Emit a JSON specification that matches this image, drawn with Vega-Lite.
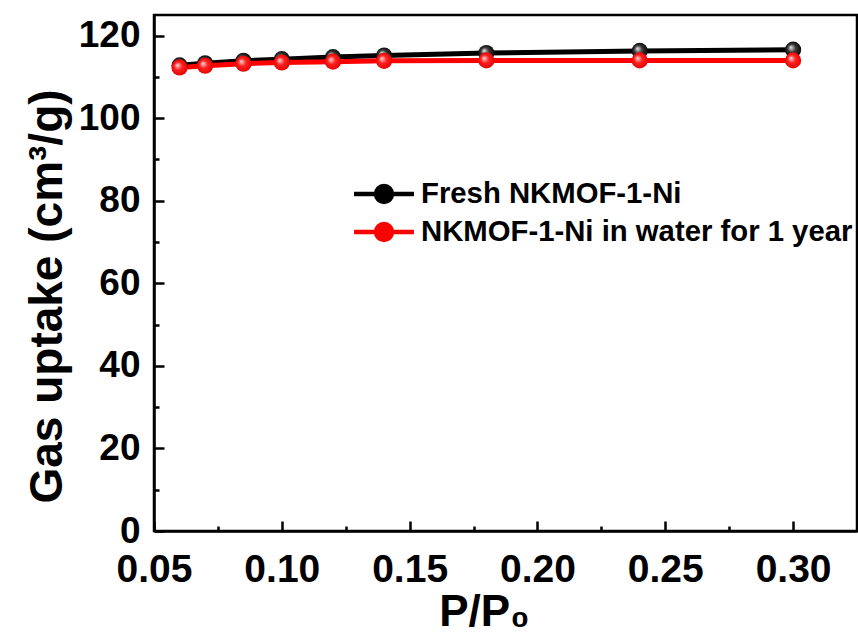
{
  "$schema": "https://vega.github.io/schema/vega-lite/v6.json",
  "autosize": {"type": "none"},
  "width": 703,
  "height": 516,
  "padding": {"left": 154, "top": 15, "right": 1, "bottom": 104},
  "background": "white",
  "config": {
    "font": "Liberation Sans",
    "view": {"stroke": "black", "strokeWidth": 2.5},
    "axis": {"grid": false, "domainColor": "black", "domainWidth": 2.5, "tickColor": "black", "tickWidth": 2.5, "labelFont": "Liberation Sans", "labelFontWeight": "bold", "labelColor": "black", "titleFont": "Liberation Sans", "titleFontWeight": "bold", "titleColor": "black"}
  },
  "data": {"values": [
    {"p": 0.06, "v": 112.8, "s": "Fresh NKMOF-1-Ni"},
    {"p": 0.07, "v": 113.3, "s": "Fresh NKMOF-1-Ni"},
    {"p": 0.085, "v": 113.9, "s": "Fresh NKMOF-1-Ni"},
    {"p": 0.10, "v": 114.3, "s": "Fresh NKMOF-1-Ni"},
    {"p": 0.12, "v": 114.8, "s": "Fresh NKMOF-1-Ni"},
    {"p": 0.14, "v": 115.2, "s": "Fresh NKMOF-1-Ni"},
    {"p": 0.18, "v": 115.8, "s": "Fresh NKMOF-1-Ni"},
    {"p": 0.24, "v": 116.3, "s": "Fresh NKMOF-1-Ni"},
    {"p": 0.30, "v": 116.6, "s": "Fresh NKMOF-1-Ni"},
    {"p": 0.06, "v": 112.3, "s": "NKMOF-1-Ni in water for 1 year"},
    {"p": 0.07, "v": 112.7, "s": "NKMOF-1-Ni in water for 1 year"},
    {"p": 0.085, "v": 113.2, "s": "NKMOF-1-Ni in water for 1 year"},
    {"p": 0.10, "v": 113.5, "s": "NKMOF-1-Ni in water for 1 year"},
    {"p": 0.12, "v": 113.7, "s": "NKMOF-1-Ni in water for 1 year"},
    {"p": 0.14, "v": 113.9, "s": "NKMOF-1-Ni in water for 1 year"},
    {"p": 0.18, "v": 114.0, "s": "NKMOF-1-Ni in water for 1 year"},
    {"p": 0.24, "v": 114.0, "s": "NKMOF-1-Ni in water for 1 year"},
    {"p": 0.30, "v": 114.0, "s": "NKMOF-1-Ni in water for 1 year"}
  ]},
  "resolve": {"axis": {"x": "independent", "y": "independent"}},
  "layer": [
    {
      "mark": {"type": "line", "strokeWidth": 5},
      "encoding": {
        "x": {"field": "p", "type": "quantitative", "scale": {"domain": [0.05, 0.325], "nice": false, "zero": false},
          "axis": {"orient": "bottom", "values": [0.05, 0.10, 0.15, 0.20, 0.25, 0.30], "format": ".2f", "tickSize": -10, "labelPadding": 29, "labelFontSize": 39, "labelFlush": false, "title": "P/P₀", "titleFontSize": 44, "titlePadding": 1, "titleX": 330, "titleAlign": "center"}},
        "y": {"field": "v", "type": "quantitative", "scale": {"domain": [0, 125], "nice": false},
          "axis": {"orient": "left", "values": [0, 20, 40, 60, 80, 100, 120], "tickSize": -10, "labelPadding": 24, "labelFontSize": 37, "labelFlush": false, "title": "Gas uptake (cm³/g)", "titleFontSize": 46, "titlePadding": 7, "titleY": 281}},
        "color": {"field": "s", "type": "nominal", "scale": {"domain": ["Fresh NKMOF-1-Ni", "NKMOF-1-Ni in water for 1 year"], "range": ["#000000", "#ff0000"]},
          "legend": {"title": null, "orient": "none", "legendX": 209, "legendY": 158, "symbolType": "M-1.62,0H1.62M0.43,0A0.43,0.43,0,1,1,-0.43,0A0.43,0.43,0,1,1,0.43,0Z", "symbolSize": 1369, "symbolStrokeWidth": 4.5, "rowPadding": -3, "labelFontSize": 29.3, "labelFontWeight": "bold", "labelColor": "black", "labelOffset": 16, "labelLimit": 0,
            "encode": {"symbols": {"update": {"fill": {"scale": "color", "field": "value"}, "stroke": {"scale": "color", "field": "value"}}}}}}
      }
    },
    {
      "transform": [{"filter": "datum.s === 'Fresh NKMOF-1-Ni'"}],
      "mark": {"type": "point", "filled": true, "size": 260, "opacity": 1, "color": {"gradient": "radial", "x1": 0.35, "y1": 0.35, "r1": 0, "x2": 0.5, "y2": 0.5, "r2": 0.55, "stops": [{"offset": 0, "color": "#f0f0f0"}, {"offset": 0.45, "color": "#3a3a3a"}, {"offset": 1, "color": "#000000"}]}},
      "encoding": {
        "x": {"field": "p", "type": "quantitative", "scale": {"domain": [0.05, 0.325], "nice": false, "zero": false},
          "axis": {"orient": "bottom", "values": [0.075, 0.125, 0.175, 0.225, 0.275], "tickSize": -5, "labels": false, "domain": false, "title": null}},
        "y": {"field": "v", "type": "quantitative", "scale": {"domain": [0, 125], "nice": false},
          "axis": {"orient": "left", "values": [10, 30, 50, 70, 90, 110], "tickSize": -5, "labels": false, "domain": false, "title": null}}
      }
    },
    {
      "transform": [{"filter": "datum.s !== 'Fresh NKMOF-1-Ni'"}],
      "mark": {"type": "point", "filled": true, "size": 260, "opacity": 1, "color": {"gradient": "radial", "x1": 0.35, "y1": 0.35, "r1": 0, "x2": 0.5, "y2": 0.5, "r2": 0.55, "stops": [{"offset": 0, "color": "#ffe0e0"}, {"offset": 0.45, "color": "#ff2020"}, {"offset": 1, "color": "#e00000"}]}},
      "encoding": {
        "x": {"field": "p", "type": "quantitative", "axis": null},
        "y": {"field": "v", "type": "quantitative", "axis": null}
      }
    }
  ]
}
